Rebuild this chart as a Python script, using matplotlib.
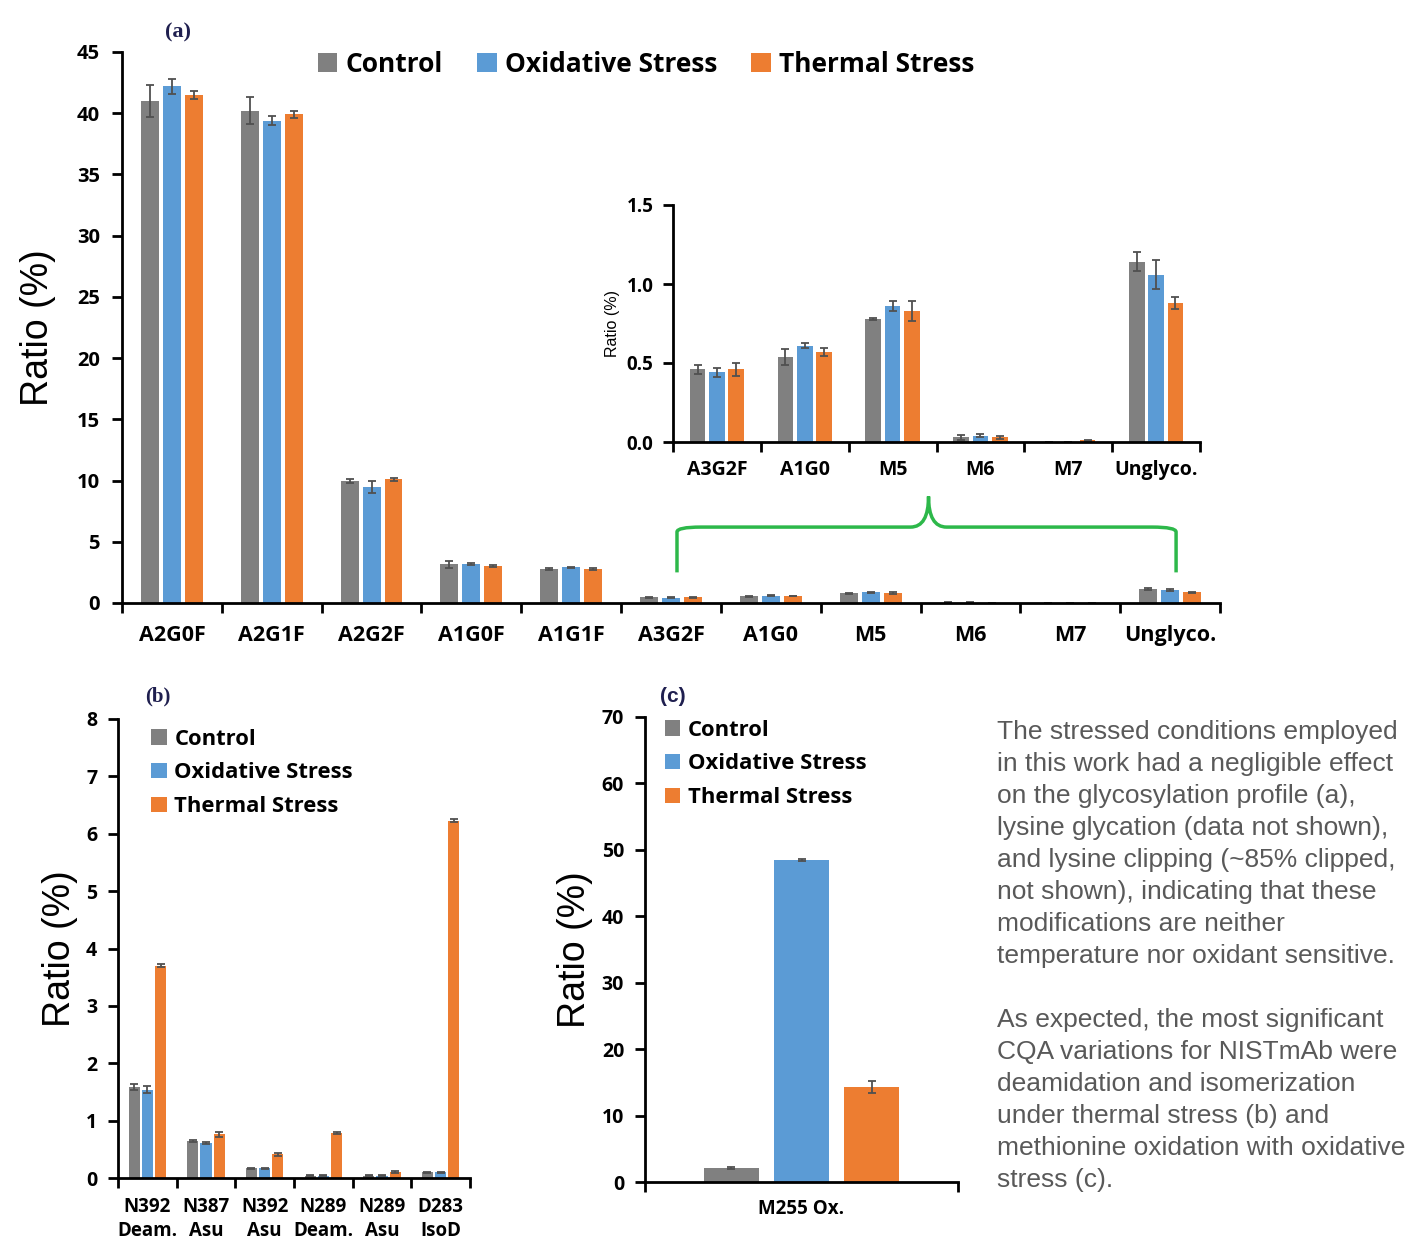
import numpy as np
import matplotlib
matplotlib.use("Agg")
import matplotlib.pyplot as plt
from matplotlib.path import Path
from matplotlib.patches import PathPatch

# ---------------- data ----------------
series_names = ["Control", "Oxidative Stress", "Thermal Stress"]
colors = ["#808080", "#5B9BD5", "#ED7D31"]

categories_a = ["A2G0F", "A2G1F", "A2G2F", "A1G0F", "A1G1F", "A3G2F", "A1G0", "M5", "M6", "M7", "Unglyco."]
control_a = [41.0, 40.2, 9.95, 3.15, 2.75, 0.46, 0.54, 0.78, 0.03, 0.0, 1.14]
oxid_a = [42.2, 39.4, 9.45, 3.2, 2.9, 0.44, 0.61, 0.86, 0.04, 0.0, 1.06]
thermal_a = [41.5, 39.9, 10.1, 3.05, 2.8, 0.46, 0.57, 0.83, 0.03, 0.01, 0.88]
err_control_a = [1.3, 1.1, 0.15, 0.27, 0.08, 0.03, 0.05, 0.005, 0.015, 0.0, 0.06]
err_oxid_a = [0.6, 0.35, 0.5, 0.08, 0.08, 0.03, 0.015, 0.03, 0.01, 0.0, 0.09]
err_thermal_a = [0.3, 0.25, 0.1, 0.08, 0.08, 0.04, 0.025, 0.065, 0.01, 0.005, 0.04]

inset_categories = ["A3G2F", "A1G0", "M5", "M6", "M7", "Unglyco."]

categories_b = ["N392\nDeam.", "N387\nAsu", "N392\nAsu", "N289\nDeam.", "N289\nAsu", "D283\nIsoD"]
control_b = [1.59, 0.64, 0.17, 0.04, 0.04, 0.10]
oxid_b = [1.54, 0.61, 0.17, 0.04, 0.04, 0.10]
thermal_b = [3.70, 0.76, 0.41, 0.78, 0.11, 6.23]
err_control_b = [0.05, 0.02, 0.01, 0.005, 0.005, 0.01]
err_oxid_b = [0.06, 0.02, 0.01, 0.005, 0.005, 0.01]
err_thermal_b = [0.03, 0.05, 0.02, 0.02, 0.02, 0.03]

categories_c = ["M255 Ox."]
control_c = [2.1]
oxid_c = [48.5]
thermal_c = [14.3]
err_control_c = [0.1]
err_oxid_c = [0.15]
err_thermal_c = [0.93]

note_text = ("The stressed conditions employed\n"
             "in this work had a negligible effect\n"
             "on the glycosylation profile (a),\n"
             "lysine glycation (data not shown),\n"
             "and lysine clipping (~85% clipped,\n"
             "not shown), indicating that these\n"
             "modifications are neither\n"
             "temperature nor oxidant sensitive.\n"
             "\n"
             "As expected, the most significant\n"
             "CQA variations for NISTmAb were\n"
             "deamidation and isomerization\n"
             "under thermal stress (b) and\n"
             "methionine oxidation with oxidative\n"
             "stress (c).")

# ---------------- layout ----------------
W, H = 1411, 1238
fig = plt.figure(figsize=(W / 100, H / 100), dpi=100)
TICKFONT = "Open Sans"
LABELFONT = "Liberation Sans"
ERRC = "#505050"


def px_axes(l, r, b, t):
    return fig.add_axes([l / W, 1 - b / H, (r - l) / W, (b - t) / H])


def style_axes(ax, ncat, yfs, lw=2.0, pad=8):
    for s in ["top", "right"]:
        ax.spines[s].set_visible(False)
    for s in ["left", "bottom"]:
        ax.spines[s].set_linewidth(lw)
    ax.set_xlim(-0.5, ncat - 0.5)
    ax.set_xticks(np.arange(-0.5, ncat, 1.0))
    ax.set_xticklabels([])
    ax.tick_params(axis="x", which="major", direction="out", length=7, width=lw)
    ax.tick_params(axis="y", which="major", direction="out", length=7, width=lw,
                   labelsize=yfs, pad=pad)
    for lab in ax.get_yticklabels():
        lab.set_fontweight("bold")
        lab.set_fontfamily(TICKFONT)


def draw_bars(ax, vals, errs, width, offset):
    n = len(vals[0])
    x = np.arange(n)
    handles = []
    for i, (v, e) in enumerate(zip(vals, errs)):
        b = ax.bar(x + (i - 1) * offset, v, width, color=colors[i],
                   yerr=e, error_kw=dict(ecolor=ERRC, elinewidth=1.3, capsize=3, capthick=1.3),
                   label=series_names[i], zorder=2)
        handles.append(b)
    return handles


def set_cat_labels(ax, labels, fs, pad, ls=1.0):
    n = len(labels)
    ax.set_xticks(np.arange(n), minor=True)
    ax.set_xticklabels(labels, minor=True, fontsize=fs, fontweight="bold",
                       fontfamily=TICKFONT, linespacing=ls)
    ax.tick_params(axis="x", which="minor", length=0, pad=pad)


# ---- panel (a) main ----
ax = px_axes(122, 1220, 603, 52)
ax.set_ylim(0, 45)
ax.set_yticks(np.arange(0, 46, 5))
style_axes(ax, len(categories_a), 14.5, pad=9)
handles = draw_bars(ax, [control_a, oxid_a, thermal_a],
                    [err_control_a, err_oxid_a, err_thermal_a], 0.18, 0.22)
set_cat_labels(ax, categories_a, 15.5, 16)
ax.set_ylabel("Ratio (%)", fontsize=27, fontfamily=LABELFONT)
ax.yaxis.set_label_coords(-0.060, 0.5)
ax.legend(handles=handles, loc="center", bbox_to_anchor=(646 / W, 1 - 64 / H),
          bbox_transform=fig.transFigure, ncol=3, frameon=False,
          prop=dict(family=TICKFONT, weight="bold", size=19),
          handlelength=0.75, handleheight=0.75, handletextpad=0.3, columnspacing=1.3)

# green bracket (annotation)
verts = [(5.06, 2.5), (5.06, 5.8), (5.06, 6.2), (5.3, 6.2), (7.4, 6.2),
         (7.58, 6.2), (7.58, 8.7), (7.58, 6.2), (7.76, 6.2), (9.82, 6.2),
         (10.06, 6.2), (10.06, 5.8), (10.06, 2.5)]
codes = [Path.MOVETO, Path.LINETO, Path.CURVE3, Path.CURVE3, Path.LINETO,
         Path.CURVE3, Path.CURVE3, Path.CURVE3, Path.CURVE3, Path.LINETO,
         Path.CURVE3, Path.CURVE3, Path.LINETO]
ax.add_patch(PathPatch(Path(verts, codes), fill=False, edgecolor="#2DB84A",
                       lw=2.5, zorder=3, clip_on=False))

fig.text(178 / W, 1 - 32 / H, "(a)", fontsize=16, fontweight="bold",
         fontfamily="Liberation Serif", color="#1f1f4f", ha="center", va="center")

# ---- inset ----
axi = px_axes(673, 1200, 442, 205)
axi.set_ylim(0, 1.5)
axi.set_yticks([0.0, 0.5, 1.0, 1.5])
axi.set_yticklabels(["0.0", "0.5", "1.0", "1.5"])
style_axes(axi, len(inset_categories), 13.5, pad=7)
draw_bars(axi, [control_a[5:], oxid_a[5:], thermal_a[5:]],
          [err_control_a[5:], err_oxid_a[5:], err_thermal_a[5:]], 0.18, 0.22)
set_cat_labels(axi, inset_categories, 14, 13)
axi.set_ylabel("Ratio (%)", fontsize=11.5, fontfamily=LABELFONT)
axi.yaxis.set_label_coords(-0.10, 0.5)
axi.patch.set_alpha(0)

LEG_PROP = dict(family=TICKFONT, weight="bold", size=15.8)

# ---- panel (b) ----
axb = px_axes(118, 470, 1178, 719)
axb.set_ylim(0, 8)
axb.set_yticks(np.arange(0, 9, 1))
style_axes(axb, len(categories_b), 14)
hb = draw_bars(axb, [control_b, oxid_b, thermal_b],
               [err_control_b, err_oxid_b, err_thermal_b], 0.19, 0.225)
set_cat_labels(axb, categories_b, 13.5, 14, ls=1.22)
axb.set_ylabel("Ratio (%)", fontsize=27, fontfamily=LABELFONT)
axb.yaxis.set_label_coords(-0.114, 0.5)
axb.legend(handles=hb, loc="upper left", bbox_to_anchor=(0.07, 0.998), frameon=False,
           prop=LEG_PROP, handlelength=0.7, handleheight=0.7, handletextpad=0.35,
           labelspacing=0.58, borderaxespad=0)
fig.text(158 / W, 1 - 696 / H, "(b)", fontsize=15, fontweight="bold",
         fontfamily="Liberation Serif", color="#1f1f4f", ha="center", va="center")

# ---- panel (c) ----
axc = px_axes(645, 958, 1182, 717)
axc.set_ylim(0, 70)
axc.set_yticks(np.arange(0, 71, 10))
style_axes(axc, len(categories_c), 14)
hc = draw_bars(axc, [control_c, oxid_c, thermal_c],
               [err_control_c, err_oxid_c, err_thermal_c], 0.176, 0.224)
set_cat_labels(axc, categories_c, 13.5, 12)
axc.set_ylabel("Ratio (%)", fontsize=27, fontfamily=LABELFONT)
axc.yaxis.set_label_coords(-0.166, 0.5)
axc.legend(handles=hc, loc="upper left", bbox_to_anchor=(0.035, 1.013), frameon=False,
           prop=LEG_PROP, handlelength=0.7, handleheight=0.7, handletextpad=0.35,
           labelspacing=0.58, borderaxespad=0)
fig.text(673 / W, 1 - 696 / H, "(c)", fontsize=15, fontweight="bold",
         fontfamily="Liberation Sans", color="#1f1f4f", ha="center", va="center")

# ---- note text ----
fig.text(997 / W, 1 - 720 / H, note_text, fontsize=19, fontfamily=LABELFONT,
         color="#595959", ha="left", va="top", linespacing=1.42)

fig.savefig("out.png", dpi=100)
